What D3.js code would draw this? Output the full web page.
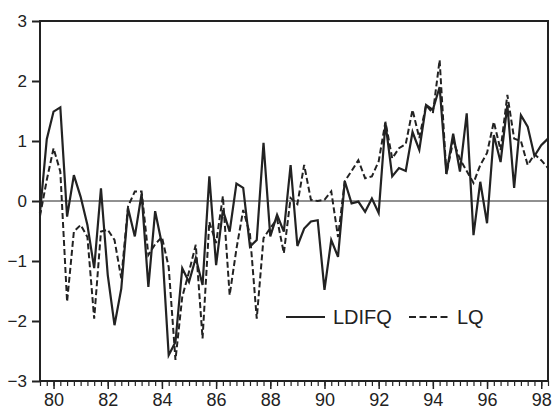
<!DOCTYPE html>
<html>
<head>
<meta charset="utf-8">
<script src="https://cdn.jsdelivr.net/npm/d3@7/dist/d3.min.js"></script>
<style>
  html, body { margin: 0; padding: 0; background: #fff; }
  svg { display: block; }
  text { font-family: Arial, "Liberation Sans", Helvetica, sans-serif; fill: #222; }
</style>
</head>
<body>
<svg id="chart" width="552" height="409"></svg>
<script>
// Quarterly observations, 1979Q3 to 1998Q2
const startYear = 1979.5;
const ldifq = [
  -0.20, 1.03, 1.49, 1.56, -0.26, 0.43, 0.07, -0.40, -1.12, 0.21,
  -1.23, -2.07, -1.46, -0.12, -0.59, 0.12, -1.43, -0.17, -0.72, -2.57,
  -2.35, -1.12, -1.35, -0.95, -1.40, 0.41, -1.07, -0.15, -0.51, 0.29,
  0.22, -0.76, -0.65, 0.97, -0.59, -0.23, -0.51, 0.60, -0.75, -0.46,
  -0.34, -0.32, -1.48, -0.65, -0.93, 0.33, -0.04, -0.01, -0.18, 0.04,
  -0.20, 1.30, 0.41, 0.55, 0.50, 1.15, 0.85, 1.60, 1.52, 1.90,
  0.45, 1.12, 0.49, 1.46, -0.57, 0.32, -0.37, 1.10, 0.65, 1.60,
  0.22, 1.43, 1.24, 0.75, 0.93, 1.04
];
const lq = [
  -0.25, 0.35, 0.88, 0.49, -1.68, -0.51, -0.40, -0.60, -1.96, -0.51,
  -0.48, -0.65, -1.29, -0.09, 0.16, 0.16, -0.90, -0.72, -0.60, -1.10,
  -2.65, -1.60, -1.18, -0.73, -2.29, -0.35, -0.70, 0.08, -1.57, -0.80,
  -0.15, -0.55, -1.96, -0.62, -0.45, -0.30, -0.87, 0.05, -0.05, 0.60,
  0.02, 0.00, 0.02, 0.16, -0.60, 0.33, 0.50, 0.68, 0.38, 0.41,
  0.66, 1.32, 0.71, 0.88, 0.95, 1.52, 1.05, 1.60, 1.46, 2.35,
  0.45, 1.00, 0.70, 0.50, 0.30, 0.60, 0.80, 1.32, 0.85, 1.77,
  1.04, 1.00, 0.60, 0.78, 0.68, 0.55
];
const yTicks = [-3, -2, -1, 0, 1, 2, 3];
const xTickYears = [1980, 1982, 1984, 1986, 1988, 1990, 1992, 1994, 1996, 1998];
const seriesNames = ["LDIFQ", "LQ"];

const svg = d3.select("#chart");
const plotLeft = 40, plotRight = 548, plotTop = 21, plotBottom = 381;
const ink = "#222";

const dates = ldifq.map((_, i) => startYear + i * 0.25);
const x = d3.scaleLinear().domain([dates[0], dates[dates.length - 1]]).range([plotLeft, plotRight]);
const y = d3.scaleLinear().domain([-3, 3]).range([plotBottom, plotTop]);

// Frame
svg.append("rect")
  .attr("x", plotLeft).attr("y", plotTop)
  .attr("width", plotRight - plotLeft).attr("height", plotBottom - plotTop)
  .attr("fill", "none").attr("stroke", ink).attr("stroke-width", 2);

// Zero reference line
svg.append("line")
  .attr("x1", plotLeft).attr("x2", plotRight)
  .attr("y1", y(0)).attr("y2", y(0))
  .attr("stroke", ink).attr("stroke-width", 1);

// Y axis
const yAxis = d3.axisLeft(y).tickValues(yTicks).tickSize(8).tickPadding(5)
  .tickFormat(d3.format("d"));
const gy = svg.append("g").attr("transform", `translate(${plotLeft},0)`).call(yAxis);
gy.select(".domain").remove();
gy.selectAll(".tick line").attr("stroke", ink).attr("stroke-width", 2);
gy.selectAll(".tick text").style("font-size", "17px").attr("fill", ink);

// X axis: quarterly minor ticks, labelled every other year
const xMinor = d3.axisBottom(x).tickValues(dates).tickSize(5).tickFormat("");
const gxm = svg.append("g").attr("transform", `translate(0,${plotBottom})`).call(xMinor);
gxm.select(".domain").remove();
gxm.selectAll(".tick line").attr("stroke", ink).attr("stroke-width", 1.2);

const xAxis = d3.axisBottom(x).tickValues(xTickYears).tickSize(8).tickPadding(4)
  .tickFormat(d => String(d % 100).padStart(2, "0"));
const gx = svg.append("g").attr("transform", `translate(0,${plotBottom})`).call(xAxis);
gx.select(".domain").remove();
gx.selectAll(".tick line").attr("stroke", ink).attr("stroke-width", 1.5);
gx.selectAll(".tick text").style("font-size", "18px").attr("fill", ink);

// Series lines
const line = d3.line().x((d, i) => x(dates[i])).y(d => y(d));
svg.append("path").datum(lq)
  .attr("d", line).attr("fill", "none")
  .attr("stroke", ink).attr("stroke-width", 2)
  .attr("stroke-dasharray", "6,3")
  .attr("stroke-linejoin", "miter");
svg.append("path").datum(ldifq)
  .attr("d", line).attr("fill", "none")
  .attr("stroke", ink).attr("stroke-width", 2.2)
  .attr("stroke-linejoin", "miter");

// Legend
const legend = svg.append("g");
const legendY = 317;
legend.append("line").attr("x1", 286).attr("x2", 325).attr("y1", legendY).attr("y2", legendY)
  .attr("stroke", ink).attr("stroke-width", 2);
legend.append("text").attr("x", 333).attr("y", legendY + 7).style("font-size", "20px")
  .text(seriesNames[0]);
legend.append("line").attr("x1", 409).attr("x2", 448).attr("y1", legendY).attr("y2", legendY)
  .attr("stroke", ink).attr("stroke-width", 2).attr("stroke-dasharray", "7,3.5");
legend.append("text").attr("x", 457).attr("y", legendY + 7).style("font-size", "20px")
  .text(seriesNames[1]);
</script>
</body>
</html>
